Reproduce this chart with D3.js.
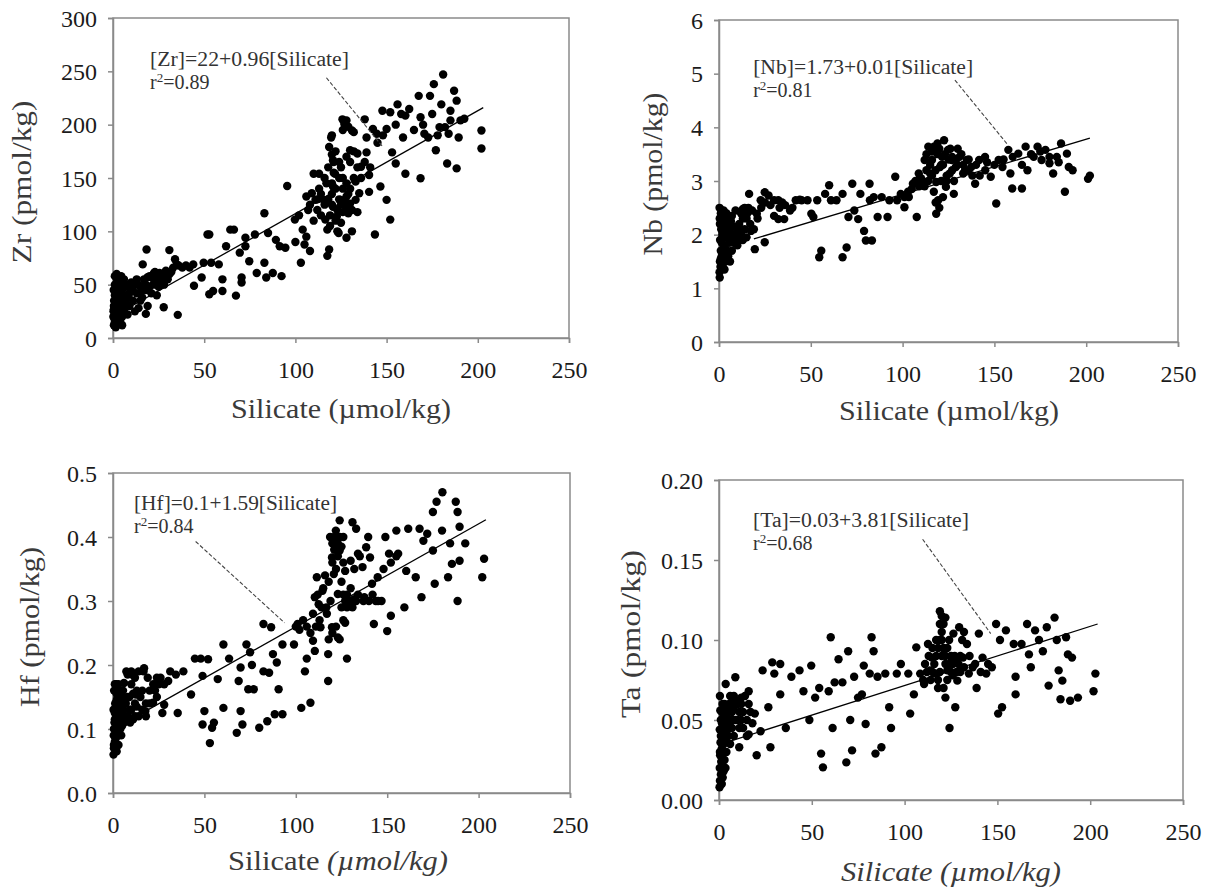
<!DOCTYPE html>
<html><head><meta charset="utf-8">
<script src="https://cdn.jsdelivr.net/npm/d3@7"></script>
<style>body{margin:0;background:#fff}svg{display:block}</style>
</head><body><svg id="c" width="1213" height="888"></svg>
<script>
// ---------- DATA ----------
const xTicks = [0, 50, 100, 150, 200, 250];
const zrTicks = [0, 50, 100, 150, 200, 250, 300];
const nbTicks = [0, 1, 2, 3, 4, 5, 6];
const hfTicks = [0, 0.1, 0.2, 0.3, 0.4, 0.5];
const taTicks = [0, 0.05, 0.10, 0.15, 0.20];
const xTitle = "Silicate (\u00b5mol/kg)";
const yTitles = ["Zr (pmol/kg)", "Nb (pmol/kg)", "Hf (pmol/kg)", "Ta (pmol/kg)"];
const equations = ["[Zr]=22+0.96[Silicate]", "[Nb]=1.73+0.01[Silicate]", "[Hf]=0.1+1.59[Silicate]", "[Ta]=0.03+3.81[Silicate]"];
const r2Values = ["0.89", "0.81", "0.84", "0.68"];
// fitted line endpoints [x,y]
const fitZr = [[2, 22], [203, 216]];
const fitNb = [[19, 1.92], [202, 3.8]];
const fitHf = [[3, 0.104], [204, 0.427]];
const fitTa = [[4, 0.036], [204, 0.110]];
// dashed leader lines [start,end]
const leadZr = [[117, 244], [148, 179]];
const leadNb = [[128.5, 4.88], [157.4, 3.67]];
const leadHf = [[45.2, 0.393], [93.8, 0.266]];
const leadTa = [[109.7, 0.163], [146.4, 0.104]];
// equation text anchors (data units)
const eqAnchors = [[20.3, 255], [18.6, 5.0], [11.5, 0.442], [18.3, 0.1706]];

const zrPoints = [
[0.5,12],[1,15],[0.8,18],[1.5,22],[0.3,25],[2,28],[1.2,31],[0.6,35],[2.5,38],[1.8,42],[0.4,45],[3,48],[1,50],[2.2,55],[0.2,20],[3.5,14],[2.8,18],[4,24],[3.2,30],[4.5,35],[3.8,40],[5,45],[4.2,52],[2,60],[1.5,10],[5.5,28],[6,33],[5,12],[6.5,40],[7,48],[8,22],[8.5,38],[9,30],[10,45],[11,35],[12,52],[13,42],[14,28],[15,48],[16,38],[17,55],[18,45],[19,30],[20,58],[21,42],[22,50],[23,62],[24,55],[25,48],[26,60],[27,52],[28,58],[29,63],[30,55],[32,62],[24,40],[12,25],[6,55],[8,50],[0.5,30],[1,40],[3,35],[2,13],
[0.5,27],[1.5,33],[2.5,45],[3.5,52],[4.5,58],[1,58],[2,48],[3,22],[4,15],[5,20],[6,25],[7,30],[7,36],[9,42],[10,52],[11,48],[13,55],[14,50],[15,35],[16,45],[18,50],[19,57],[20,48],[22,56],[25,55],[27,58],[28,50],[31,60],[33,66],[36,68],[38,66],[40,68],[42,66],[44,69],
[18.4,83],[16.3,69],[18,22.6],[27.8,28.8],[30.9,82.4],[35.5,21.7],[22.5,61],[25.5,61],[34,73.8],[35,69],[51.8,97],[52.8,97],[44.4,49],[48.6,56.7],[49.7,70.6],[53.8,70.6],[52.8,41],[54.9,44],[58,69],[60,44],[60,55],[62,86],[64.3,101.6],[66.3,101.6],[67.4,39.7],[69.5,80],[70.5,52],[70.5,56.7],[72.6,86],[74.7,72],[72.6,94],[77.8,97],[78.8,61],[83,117],[83,70.6],[84,56.7],[85,98.5],[87.6,61],[89.3,92],[91.4,86],[92.4,58],[94.5,84.6],[95.5,142.5],[99.7,111],[104,101.6],[103,70.6],[105,87.7],[106,95],[108,81.5],[107,120],[106,132.6],[109,135.7],[110,154],[111,129.5],[113,154],[115.4,129.5],[116.4,111],[118.5,83],[117.5,77],[117.5,101.6],[118.5,179],[119.6,188],[120.6,166.7],[120.6,142],[120.6,123],[121.7,154],[122.7,114],[123.7,98.5],[124.8,129.5],[125.8,205],[126.9,201],[128,204],[128,132.6],[129,117],[128,94],[130,176],[131,194.6],[132,193],[133,146.6],[133,129.5],[134,173],[135,135.7],[136,160.5],[138,205],[139,188],[140.4,152.8],[140.4,137],[139,174],[142.5,196],[144.6,191.5],[143.6,97],[146.6,142],[150,129.5],[152,111],[147.7,213],[152,211.6],[153,174],[155,163.6],[156,219],[159,188],[160.3,154],[160.3,208.5],[162.4,214.7],[167.6,227],[168.6,149.7],[168.6,207],[170.7,191.5],[172.8,188],[173.8,227],[175.9,238],[177,176],[179,197.7],[180,219],[181,247],[183.2,163.6],[184,191.5],[185,213],[187,231.8],[188.4,222.5],[188.4,159],[189.5,188],[190.5,204],[192.6,205.6],[202,194.6],[202,177.6],[182,197.7],[185,204],
[119,105],[119,115],[120,125],[120,135],[120,145],[121,155],[121,165],[120,172],[122,110],[123,120],[124,130],[125,125],[126,118],[127,128],[128,122],[129,135],[130,126],[131,120],[126,140],[124,150],[122,140],[118,130],[116,125],[114,115],[112,130],[117,145],[113,140],[125,160],[128,170],[130,165],[132,175],[127,200],[129,198],[126,195],[125,108],[123,100],[131,100],[134,118],
[100,90],[102,115],[108,125],[110,110],[112,120],[114,135],[116,150],[118,160],[120,190],[122,175],[124,165],[126,150],[128,145],[130,140],[132,150],[134,160],[136,150],[138,165],[141,160],[145,183],[148,190],[150,196],[155,200],[158,210],[165,195],[170,200],[175,210],[178,190]
];

const nbPoints = [
[0.3,1.3],[0.5,1.5],[1,1.7],[0.6,1.9],[1.2,2.1],[0.4,2.3],[1.5,2.45],[2,1.4],[2.2,1.6],[2.5,1.8],[1.8,2.0],[2.8,2.2],[3,2.35],[3.5,1.5],[3.2,1.75],[4,1.95],[4.2,2.15],[4.5,2.3],[5,1.6],[5.5,1.85],[6,2.05],[6.5,2.25],[7,1.7],[7.5,1.95],[8,2.15],[9,2.0],[10,1.8],[11,2.2],[12,2.4],[13,1.9],[14,2.1],[15,2.3],[16,2.5],[17,2.2],[18,2.45],[0.4,1.2],[0.3,2.5],[1,2.4],[0.8,1.4],[2,2.3],[3,1.35],[1.5,1.6],
[0.5,2.2],[1,1.55],[1.5,1.85],[2,2.05],[2.5,2.45],[3,1.6],[3.5,2.0],[4,2.4],[4.5,1.7],[5,2.0],[6,1.5],[7,2.35],[8,1.85],[9,2.45],[10,2.1],[11,1.9],[12,2.0],[13,2.3],[14,2.5],[15,1.95],[19,2.1],[21,2.3],[23,2.5],[25,2.6],[28,2.55],[30,2.35],[33,2.5],[36,2.55],[40,2.5],[44,2.65],
[16.4,2.76],[17.4,2.07],[13,2.48],[15.3,2.39],[20.6,2.39],[22.7,2.64],[24.9,2.79],[27,2.73],[30,2.64],[32.3,2.64],[34.4,2.6],[32.3,2.29],[35.5,2.29],[24.9,1.86],[19.5,1.73],[38.7,2.45],[41.8,2.64],[45,2.64],[48.2,2.64],[50.3,2.39],[51.4,2.33],[53.5,2.64],[54.6,1.58],[55.7,1.7],[57.8,2.76],[60,2.92],[61,2.64],[64,2.64],[67.3,2.76],[67.3,1.58],[69.5,1.76],[70.5,2.33],[72.6,2.95],[73.7,2.45],[75.8,2.29],[77,2.76],[79,2.07],[80,1.89],[82,2.95],[83.3,1.89],[82.2,2.64],[84.3,2.7],[86.4,2.33],[88.6,2.7],[91.8,2.33],[92.8,2.64],[96,3.08],[97,2.64],[99,2.76],[101,2.51],[103.4,2.7],[105.6,2.95],[107.7,2.33],[108.8,3.14],[110.9,2.95],[112,3.39],[114,3.64],[115,3.14],[116,3.39],[117,3.64],[118.3,2.98],[118.3,2.39],[119.4,2.64],[120.4,3.26],[121.5,3.45],[122.6,3.76],[123.6,2.89],[124.7,3.58],[125.7,3.14],[126.8,3.39],[127.9,2.76],[129,3.26],[131,3.45],[133,3.14],[135,3.39],[137.4,3.26],[139.5,2.95],[141.7,3.39],[144.9,3.45],[148,3.08],[151,2.58],[152.3,3.39],[154.4,3.26],[157.6,3.58],[158.7,3.14],[159.7,2.86],[163,3.51],[165,2.86],[167,3.64],[168,3.2],[171.4,3.45],[173.5,3.64],[175.7,3.39],[177.8,3.58],[180,3.33],[182,3.14],[184,3.45],[186.3,3.7],[188.4,2.8],[189.5,3.51],[190.5,3.26],[192.6,3.2],[201,3.04],[202,3.1],
[112,2.9],[114,3.0],[116,3.1],[117,2.8],[118,3.2],[119,3.5],[120,3.6],[121,3.0],[122,3.3],[123,3.5],[124,3.1],[125,3.4],[126,3.6],[127,3.2],[128,3.0],[129,3.4],[130,3.3],[132,3.5],[134,3.2],[136,3.4],[138,3.1],[140,3.3],[118,2.6],[120,2.5],[122,2.7],[115,3.3],[113,3.5],[111,3.0],[109,2.9],[107,3.0],[105,2.85],[103,2.8],[101,2.7],
[150,3.3],[155,3.4],[160,3.45],[165,3.3],[170,3.5],[175,3.55],[180,3.45],[185,3.35],[145,3.2],[142,3.1],[146,3.35],[110,3.05],[113,3.2],[116,3.55],[119,3.7],[121,3.3],[124,3.0],[127,3.45],[130,3.6],[133,3.3],[136,3.2]
];

const hfPoints = [
[0.3,0.06],[0.5,0.07],[1,0.08],[0.4,0.09],[1.5,0.1],[0.8,0.11],[2,0.12],[0.3,0.13],[1.2,0.14],[2.5,0.15],[0.6,0.16],[1.8,0.17],[3,0.09],[3.5,0.11],[3,0.13],[4,0.14],[4.5,0.12],[4,0.1],[5,0.15],[5.5,0.13],[6,0.11],[2,0.065],[1,0.17],[7,0.14],[8,0.12],[9,0.15],[10,0.13],[11,0.115],[12,0.14],[13,0.16],[14,0.12],[15,0.15],[16,0.13],[18,0.14],[20,0.16],[22,0.17],[24,0.15],[26,0.18],[28,0.17],[8,0.185],[10,0.19],[12,0.18],[14,0.19],[17,0.195],[19,0.18],[3,0.17],[6,0.172],[0.5,0.075],[1.5,0.085],[2.5,0.095],[1,0.125],[2,0.145],
[0.5,0.1],[1,0.115],[1.5,0.135],[2,0.155],[2.5,0.11],[3,0.075],[3.5,0.14],[4,0.16],[4.5,0.09],[5,0.105],[5.5,0.16],[6,0.14],[7,0.12],[8,0.15],[9,0.13],[10,0.17],[11,0.155],[12,0.12],[13,0.135],[16,0.16],[18,0.12],[20,0.14],[23,0.16],[25,0.17],
[7.3,0.19],[10.4,0.185],[16.7,0.19],[12.5,0.154],[17.7,0.128],[9.4,0.11],[21.9,0.141],[24,0.18],[27,0.125],[28,0.138],[30.2,0.175],[31.3,0.19],[34.4,0.185],[35.4,0.125],[38.5,0.19],[42.7,0.154],[44.8,0.21],[48,0.21],[49,0.183],[50,0.128],[49,0.107],[52,0.209],[53,0.078],[54.2,0.102],[55.2,0.11],[57.3,0.178],[60.4,0.232],[60.4,0.133],[63.5,0.21],[67.7,0.094],[68.75,0.175],[69.8,0.128],[69.8,0.196],[70.8,0.107],[73,0.232],[74,0.162],[75,0.22],[76,0.2],[77,0.162],[80,0.102],[82.3,0.264],[82.3,0.19],[84.4,0.112],[85.4,0.188],[86.5,0.259],[87.5,0.217],[88.5,0.123],[89.6,0.204],[90.6,0.162],[92.7,0.232],[92.7,0.123],[99,0.232],[101,0.264],[103,0.133],[105,0.19],[106,0.21],[108,0.141],[109.4,0.238],[109.4,0.28],[110.4,0.222],[110.4,0.306],[111.5,0.337],[112.5,0.295],[113.5,0.259],[114.6,0.316],[116.7,0.29],[117.7,0.217],[117.7,0.175],[118.75,0.4],[119.8,0.368],[119.8,0.259],[120.8,0.342],[121.9,0.41],[123,0.311],[123,0.243],[124,0.426],[124,0.379],[125,0.29],[126,0.4],[127,0.347],[127,0.266],[128,0.21],[129,0.3],[130,0.363],[131,0.423],[132,0.303],[133,0.413],[134,0.374],[136.5,0.353],[137.5,0.306],[138.5,0.384],[139.6,0.4],[140.6,0.368],[141.7,0.327],[142.7,0.264],[143.75,0.3],[144.8,0.337],[146.9,0.3],[149,0.4],[150,0.253],[151,0.374],[152,0.277],[155,0.41],[156,0.374],[159.4,0.29],[160.4,0.347],[161.5,0.413],[165.6,0.337],[167.7,0.413],[168.75,0.306],[169.8,0.394],[171.9,0.405],[175,0.379],[176,0.327],[175,0.439],[177,0.455],[180,0.41],[180.2,0.47],[183.3,0.337],[184.4,0.39],[185.4,0.358],[187.5,0.455],[188.5,0.439],[188.5,0.3],[189.6,0.416],[189.6,0.363],[192.7,0.39],[202,0.337],[203,0.366],
[115,0.32],[117,0.28],[119,0.3],[120,0.39],[121,0.38],[122,0.35],[123,0.37],[124,0.4],[125,0.33],[126,0.36],[127,0.3],[128,0.31],[130,0.3],[131,0.29],[133,0.3],[135,0.37],[118,0.24],[120,0.25],[122,0.26],[124,0.24],[126,0.27],[113,0.27],[111,0.26],[108,0.25],[106,0.26],[104,0.27],[102,0.255],[100,0.26],
[112,0.31],[114,0.29],[116,0.34],[118,0.33],[120,0.36],[121,0.4],[122,0.395],[123,0.39],[125,0.385],[126,0.31],[128,0.29],[130,0.32],[132,0.35],[134,0.31],[137,0.3],[140,0.3],[142,0.31],[145,0.3],[148,0.35],[152,0.36],[155,0.37]
];

const taPoints = [
[0.3,0.008],[0.5,0.012],[1,0.016],[0.4,0.02],[1.2,0.024],[0.6,0.028],[1.5,0.032],[0.8,0.036],[2,0.04],[0.4,0.044],[1.6,0.048],[2.4,0.052],[0.7,0.056],[1.9,0.06],[0.5,0.065],[3,0.03],[3.5,0.036],[4,0.042],[3.2,0.046],[4.5,0.05],[5,0.055],[4.2,0.058],[5.5,0.045],[6,0.05],[6.5,0.06],[7,0.055],[8,0.058],[9,0.062],[2.5,0.018],[3,0.025],[10,0.05],[11,0.045],[12,0.06],[13,0.055],[14,0.065],[15,0.05],[16,0.06],[6,0.035],[8,0.04],[1.5,0.01],[2,0.014],[1,0.04],[2.5,0.045],
[0.5,0.03],[1,0.05],[1.5,0.055],[2,0.025],[2.5,0.035],[3,0.06],[3.5,0.02],[4,0.03],[5,0.04],[5.5,0.06],[6,0.065],[7,0.045],[7.5,0.05],[8,0.065],[9,0.05],[10,0.06],[11,0.055],[12,0.05],[13,0.045],[15,0.04],[17,0.055],[18,0.048],
[3.6,0.0725],[8.8,0.0767],[12,0.064],[16,0.068],[10.9,0.033],[16,0.041],[19.3,0.054],[20.3,0.028],[22.4,0.043],[23.5,0.081],[26.6,0.058],[27.7,0.033],[28.7,0.086],[29.8,0.079],[33,0.085],[33,0.066],[36,0.045],[39,0.077],[43.4,0.081],[45.5,0.068],[48.7,0.05],[49.7,0.084],[51.8,0.064],[54,0.07],[55,0.029],[56,0.0204],[59.1,0.068],[60.2,0.1017],[61.2,0.045],[62.3,0.0735],[64.4,0.088],[66.5,0.0735],[68.6,0.0235],[69.6,0.093],[70.7,0.05],[71.7,0.031],[72.8,0.077],[74.9,0.064],[77,0.066],[78,0.084],[79,0.0475],[81.2,0.079],[82.2,0.1017],[83.3,0.093],[84.3,0.029],[85.4,0.077],[87.5,0.033],[89.6,0.079],[91.7,0.058],[92.7,0.045],[95.8,0.079],[98,0.085],[102,0.079],[103,0.054],[105,0.066],[106.3,0.0954],[108.4,0.079],[110.5,0.0725],[112.6,0.0975],[113.7,0.081],[114.7,0.089],[116.8,0.079],[118,0.07],[119,0.118],[120,0.1],[121,0.091],[122,0.114],[122,0.064],[123,0.081],[124.2,0.045],[125.2,0.089],[126.3,0.104],[127.3,0.058],[128.4,0.0746],[129.4,0.108],[131.5,0.089],[133.6,0.0975],[134.6,0.079],[136.7,0.083],[138.8,0.07],[140,0.104],[142,0.089],[144,0.079],[147,0.083],[149.3,0.11],[150.4,0.054],[151.4,0.1],[152.5,0.058],[154.6,0.106],[158.8,0.0975],[159.8,0.077],[159.8,0.066],[163,0.0975],[166,0.11],[167,0.091],[168,0.083],[170.3,0.106],[172.4,0.1],[174.5,0.093],[176.6,0.108],[177.6,0.0715],[180.8,0.114],[182,0.1],[183,0.081],[184,0.063],[185,0.0746],[187,0.1017],[188,0.091],[189.2,0.062],[190.2,0.089],[193.4,0.064],[201.8,0.068],[202.8,0.079],
[116,0.085],[117,0.09],[118,0.095],[119,0.1],[120,0.105],[121,0.11],[120,0.09],[119,0.08],[118,0.075],[122,0.085],[123,0.095],[124,0.1],[125,0.08],[126,0.085],[127,0.09],[128,0.08],[129,0.085],[130,0.09],[121,0.07],[123,0.075],[125,0.09],[115,0.08],[114,0.075],[112,0.08],[110,0.075],[131,0.1],[132,0.105],
[111,0.085],[113,0.09],[115,0.095],[117,0.1],[119,0.11],[120,0.115],[121,0.095],[122,0.09],[124,0.085],[126,0.078],[128,0.088],[130,0.08],[132,0.083],[135,0.09],[138,0.085],[141,0.08],[145,0.085]
];

// ---------- LAYOUT ----------
const layout = [
  {l:113, r:569, t:18, b:338, yTick:zrTicks, fmt:d3.format("d"), ymax:300, pts:zrPoints, fit:fitZr, lead:leadZr,
   ytx:31, yty:182, yLen:163, xtx:341, xty:418, xItal:0, eqLen:199},
  {l:719, r:1178, t:20, b:342, yTick:nbTicks, fmt:d3.format("d"), ymax:6, pts:nbPoints, fit:fitNb, lead:leadNb,
   ytx:662, yty:174, yLen:163, xtx:949, xty:420, xItal:0, eqLen:220},
  {l:113, r:570, t:473, b:793, yTick:hfTicks, fmt:d3.format(".1f"), ymax:0.5, pts:hfPoints, fit:fitHf, lead:leadHf,
   ytx:39, yty:627, yLen:160, xtx:338, xty:870, xItal:1, eqLen:203},
  {l:719, r:1183, t:480, b:800, yTick:taTicks, fmt:d3.format(".2f"), ymax:0.2, pts:taPoints, fit:fitTa, lead:leadTa,
   ytx:640, yty:634, yLen:168, xtx:951, xty:881, xItal:2, eqLen:216}
];

const svg = d3.select("#c");
const FONT = "Liberation Serif";
const AX = "#8a8a8a";

layout.forEach((p, i) => {
  const x = d3.scaleLinear().domain([0, 250]).range([p.l, p.r]);
  const y = d3.scaleLinear().domain([0, p.ymax]).range([p.b, p.t]);
  const g = svg.append("g");

  g.append("rect").attr("x", p.l).attr("y", p.t).attr("width", p.r - p.l).attr("height", p.b - p.t)
    .attr("fill", "none").attr("stroke", AX).attr("stroke-width", 1.5);

  const xa = g.append("g").attr("transform", `translate(0,${p.b})`)
    .call(d3.axisBottom(x).tickValues(xTicks).tickSize(5).tickFormat(d3.format("d")));
  const ya = g.append("g").attr("transform", `translate(${p.l},0)`)
    .call(d3.axisLeft(y).tickValues(p.yTick).tickSize(5).tickFormat(p.fmt));
  [xa, ya].forEach(a => {
    a.attr("font-family", FONT).attr("font-size", 24);
    a.select(".domain").attr("stroke", AX).attr("stroke-width", 1.5);
    a.selectAll(".tick line").attr("stroke", AX).attr("stroke-width", 1.5);
    a.selectAll(".tick text").attr("fill", "#1b1b1b");
  });
  xa.selectAll(".tick text").attr("y", 40).attr("dy", 0);
  ya.selectAll(".tick text").attr("x", -16).attr("dy", "0.34em");

  g.append("g").selectAll("circle").data(p.pts).join("circle")
    .attr("cx", d => x(d[0])).attr("cy", d => y(d[1])).attr("r", 4.2).attr("fill", "#000");

  g.append("path").datum(p.fit).attr("d", d3.line().x(d => x(d[0])).y(d => y(d[1])))
    .attr("stroke", "#000").attr("stroke-width", 1.3).attr("fill", "none");

  g.append("path").datum(p.lead).attr("d", d3.line().x(d => x(d[0])).y(d => y(d[1])))
    .attr("stroke", "#444").attr("stroke-width", 1.1).attr("stroke-dasharray", "4,2").attr("fill", "none");

  const ex = x(eqAnchors[i][0]), ey = y(eqAnchors[i][1]);
  g.append("text").attr("x", ex).attr("y", ey).text(equations[i])
    .attr("textLength", p.eqLen).attr("lengthAdjust", "spacingAndGlyphs")
    .attr("font-family", FONT).attr("font-size", 20).attr("fill", "#333");
  const r2t = g.append("text").attr("x", ex).attr("y", ey + 23)
    .attr("font-family", FONT).attr("font-size", 20).attr("fill", "#333");
  r2t.append("tspan").text("r");
  r2t.append("tspan").text("2").attr("font-size", 13).attr("dy", -7);
  r2t.append("tspan").text("=" + r2Values[i]).attr("dy", 7);

  const xt = g.append("text").attr("x", p.xtx).attr("y", p.xty).attr("text-anchor", "middle")
    .attr("textLength", 220).attr("lengthAdjust", "spacingAndGlyphs")
    .attr("font-family", FONT).attr("font-size", 27).attr("fill", "#3a3a3a");
  if (p.xItal === 0) xt.text(xTitle);
  else if (p.xItal === 1) { xt.append("tspan").text("Silicate "); xt.append("tspan").text("(\u00b5mol/kg)").attr("font-style", "italic"); }
  else xt.text(xTitle).attr("font-style", "italic");

  g.append("text").attr("transform", `translate(${p.ytx},${p.yty}) rotate(-90)`).attr("text-anchor", "middle")
    .attr("textLength", p.yLen).attr("lengthAdjust", "spacingAndGlyphs")
    .attr("font-family", FONT).attr("font-size", 27).attr("fill", "#3a3a3a").text(yTitles[i]);
});
</script></body></html>
